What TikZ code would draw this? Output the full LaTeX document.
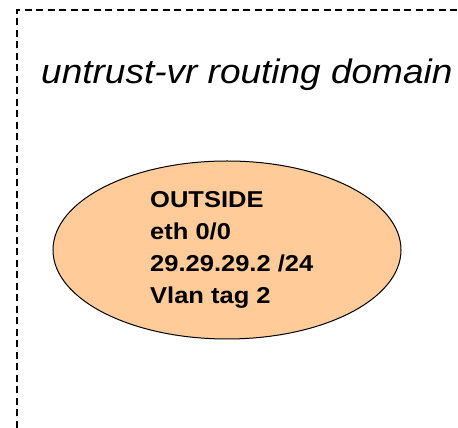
\documentclass[tikz,border=0pt]{standalone}
\usepackage{fontspec}
\setmainfont{Liberation Sans}
\usetikzlibrary{shapes.geometric}
\definecolor{peach}{RGB}{255,204,153}
\tikzset{
  domainline/.style={draw=black, line width=1.1pt, dash pattern=on 7pt off 4.5pt},
  iface/.style={ellipse, draw=black, line width=1pt, fill=peach, minimum width=348pt, minimum height=178pt, inner sep=0pt},
  titletext/.style={font=\fontsize{37}{44}\selectfont\itshape, inner sep=0pt, anchor=base west, yscale=0.92},
  labeltext/.style={font=\fontsize{25.5}{35.5}\selectfont\bfseries, inner sep=0pt, align=left, anchor=north west, yscale=0.9}
}
\begin{document}
\begin{tikzpicture}[x=1pt,y=1pt]
\useasboundingbox (0,0) rectangle (458,428);
\coordinate (bl) at (17,0);
\coordinate (tl) at (17,418);
\coordinate (tr) at (458,418);
\draw[domainline] (bl) -- (tl) -- (tr);
\node[titletext] (title) at (41,344.5) {untrust-vr routing domain};
\node[iface] (outside) at (227,178) {};
\node[labeltext] (lbl) at (150,237) {OUTSIDE\\eth 0/0\\29.29.29.2 /24\\Vlan tag 2};
\end{tikzpicture}
\end{document}
